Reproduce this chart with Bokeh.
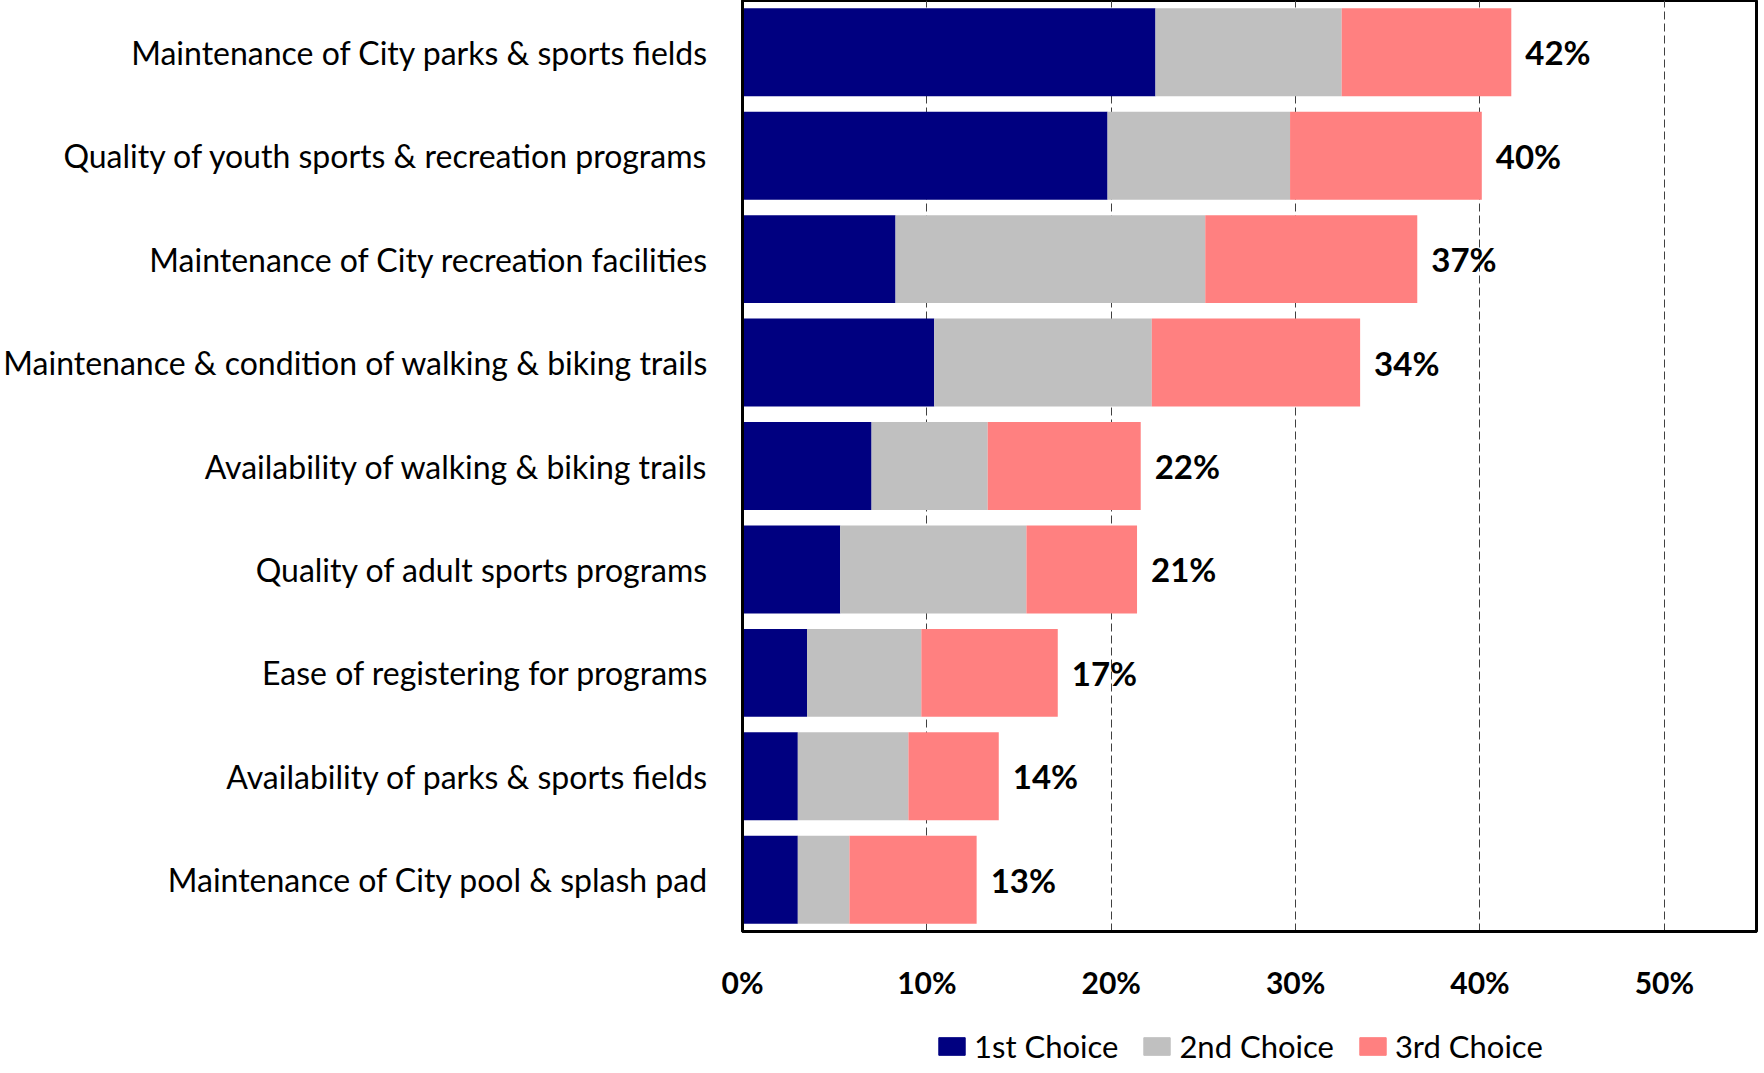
from bokeh.plotting import figure
from bokeh.layouts import column
from bokeh.models import (ColumnDataSource, Range1d, FixedTicker, PrintfTickFormatter,
                          Legend, LegendItem, FactorRange)
from bokeh.core.properties import value
from bokeh.embed import file_html
from bokeh.resources import INLINE

categories = [
    "Maintenance of City parks & sports fields",
    "Quality of youth sports & recreation programs",
    "Maintenance of City recreation facilities",
    "Maintenance & condition of walking & biking trails",
    "Availability of walking & biking trails",
    "Quality of adult sports programs",
    "Ease of registering for programs",
    "Availability of parks & sports fields",
    "Maintenance of City pool & splash pad",
]
first_choice = [22.4, 19.8, 8.3, 10.4, 7.0, 5.3, 3.5, 3.0, 3.0]
second_choice = [10.1, 9.9, 16.8, 11.8, 6.3, 10.1, 6.2, 6.0, 2.8]
third_choice = [9.2, 10.4, 11.5, 11.3, 8.3, 6.0, 7.4, 4.9, 6.9]
total_labels = ["42%", "40%", "37%", "34%", "22%", "21%", "17%", "14%", "13%"]
series_names = ["1st Choice", "2nd Choice", "3rd Choice"]
x_ticks = [0, 10, 20, 30, 40, 50]

colors = ["#000080", "#C0C0C0", "#FF8080"]
FONT = "Lato"

totals = [a + b + c for a, b, c in zip(first_choice, second_choice, third_choice)]
source = ColumnDataSource(dict(
    cat=categories,
    s1=first_choice, s2=second_choice, s3=third_choice,
    total=totals, label=total_labels,
))

p = figure(
    frame_width=1014, frame_height=931,
    y_range=FactorRange(*list(reversed(categories)), range_padding=0),
    x_range=Range1d(0, 55),
    output_backend="svg", toolbar_location=None,
    min_border_left=732, min_border_right=2, min_border_top=0, min_border_bottom=62,
)

renderers = p.hbar_stack(["s1", "s2", "s3"], y="cat", height=0.85, color=colors,
                         source=source, line_color=None)

p.text(x="total", y="cat", text="label", source=source, x_offset=14,
       text_align="left", text_baseline="middle",
       text_font=value(FONT), text_font_style="bold", text_font_size="33px",
       text_color="black")

# axes
p.xaxis.ticker = FixedTicker(ticks=x_ticks)
p.xaxis.formatter = PrintfTickFormatter(format="%d%%")
p.xaxis.major_label_text_font = FONT
p.xaxis.major_label_text_font_style = "bold"
p.xaxis.major_label_text_font_size = "30px"
p.xaxis.major_label_text_color = "black"
p.xaxis.major_label_standoff = 26
p.xaxis.major_tick_line_color = None
p.xaxis.minor_tick_line_color = None
p.xaxis.axis_line_color = "black"
p.xaxis.axis_line_width = 3

p.yaxis.major_label_text_font = FONT
p.yaxis.major_label_text_font_size = "32px"
p.yaxis.major_label_text_color = "black"
p.yaxis.major_label_standoff = 28
p.yaxis.major_tick_line_color = None
p.yaxis.minor_tick_line_color = None
p.yaxis.axis_line_color = "black"
p.yaxis.axis_line_width = 3

p.ygrid.grid_line_color = None
p.xgrid.ticker = FixedTicker(ticks=x_ticks)
p.xgrid.grid_line_color = "#404040"
p.xgrid.grid_line_dash = "8 4"
p.xgrid.grid_line_width = 1

p.outline_line_color = "black"
p.outline_line_width = 3
p.outline_line_alpha = 1

# legend in a strip below the chart
lg = figure(
    width=1748, height=64, x_range=Range1d(0, 1), y_range=Range1d(0, 1),
    output_backend="svg", toolbar_location=None,
    x_axis_location=None, y_axis_location=None,
    min_border=0, min_border_left=0, min_border_right=0, min_border_top=0, min_border_bottom=0,
)
lg.grid.visible = False
lg.outline_line_color = None
offscreen = ColumnDataSource(dict(x=[-10], y=[-10]))
legend_renderers = [lg.rect(x="x", y="y", width=1, height=1, color=c, source=offscreen)
                    for c in colors]
legend = Legend(
    items=[LegendItem(label=n, renderers=[r]) for n, r in zip(series_names, legend_renderers)],
    orientation="horizontal", location=(193, 1),
    label_text_font=FONT, label_text_font_size="31px", label_text_color="black",
    label_text_line_height=0.75, label_height=22,
    glyph_width=33, glyph_height=22, label_standoff=6, spacing=22,
    border_line_color=None, background_fill_alpha=0,
    padding=0, margin=0,
)
lg.add_layout(legend, "center")

layout = column(p, lg, spacing=0)
open("out.html", "w").write(file_html(layout, INLINE))
